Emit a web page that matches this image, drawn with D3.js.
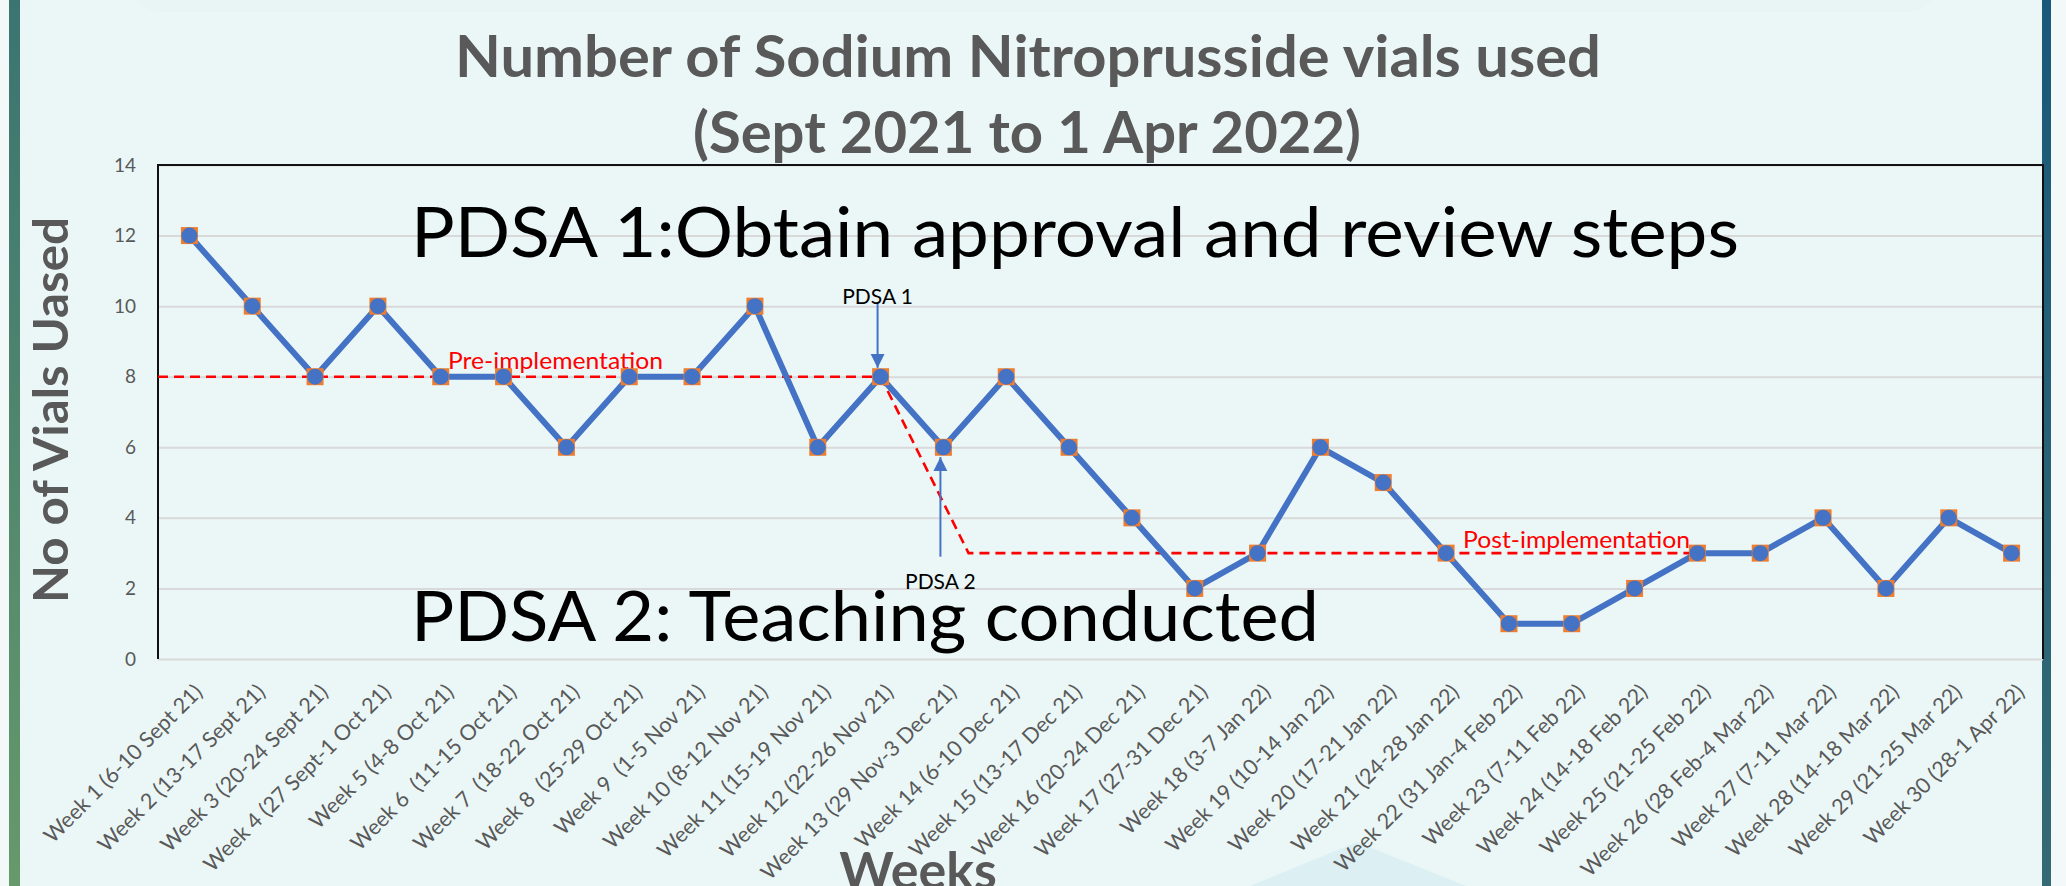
<!DOCTYPE html>
<html>
<head>
<meta charset="utf-8">
<title>Sodium Nitroprusside vials</title>
<script src="https://cdn.jsdelivr.net/npm/d3@7/dist/d3.min.js"></script>
<style>
  html, body { margin: 0; padding: 0; background: #f3f8f8; }
  svg { display: block; }
  text { font-family: Lato, "Open Sans", sans-serif; }
</style>
</head>
<body>
<svg id="chart" width="2066" height="886"></svg>
<script>
// weekly values
const weeks = [
  "Week 1 (6-10 Sept 21)", "Week 2 (13-17 Sept 21)", "Week 3 (20-24 Sept 21)",
  "Week 4 (27 Sept-1 Oct 21)", "Week 5 (4-8 Oct 21)", "Week 6  (11-15 Oct 21)",
  "Week 7  (18-22 Oct 21)", "Week 8  (25-29 Oct 21)", "Week 9  (1-5 Nov 21)",
  "Week 10 (8-12 Nov 21)", "Week 11 (15-19 Nov 21)", "Week 12 (22-26 Nov 21)",
  "Week 13 (29 Nov-3 Dec 21)", "Week 14 (6-10 Dec 21)", "Week 15 (13-17 Dec 21)",
  "Week 16 (20-24 Dec 21)", "Week 17 (27-31 Dec 21)", "Week 18 (3-7 Jan 22)",
  "Week 19 (10-14 Jan 22)", "Week 20 (17-21 Jan 22)", "Week 21 (24-28 Jan 22)",
  "Week 22 (31 Jan-4 Feb 22)", "Week 23 (7-11 Feb 22)", "Week 24 (14-18 Feb 22)",
  "Week 25 (21-25 Feb 22)", "Week 26 (28 Feb-4 Mar 22)", "Week 27 (7-11 Mar 22)",
  "Week 28 (14-18 Mar 22)", "Week 29 (21-25 Mar 22)", "Week 30 (28-1 Apr 22)"
];
const vials = [12, 10, 8, 10, 8, 8, 6, 8, 8, 10, 6, 8, 6, 8, 6, 4, 2, 3, 6, 5, 3, 1, 1, 2, 3, 3, 4, 2, 4, 3];
const yTicks = [0, 2, 4, 6, 8, 10, 12, 14];

// median lines (week number, value)
const preLine = [[0.5, 8], [12, 8]];
const postLine = [[12, 8], [13.4, 3], [25, 3]];

// PDSA arrows: week, arrow tail value, arrow tip value, label value
const pdsaArrows = [
  { label: "PDSA 1", week: 12, from: 10.1, to: 8.25, textAt: 10.05 },
  { label: "PDSA 2", week: 13, from: 2.9, to: 5.72, textAt: 1.98 }
];

const svg = d3.select("#chart");
const W = 2066, H = 886;
const m = { left: 158, right: 2043, top: 165, bottom: 659 };

// ---- background ----
const defs = svg.append("defs");
const gl = defs.append("linearGradient").attr("id", "lbar").attr("x1", 0).attr("y1", 0).attr("x2", 0).attr("y2", 1);
gl.append("stop").attr("offset", "0%").attr("stop-color", "#3b7471");
gl.append("stop").attr("offset", "100%").attr("stop-color", "#66996b");
const gr = defs.append("linearGradient").attr("id", "rbar").attr("x1", 0).attr("y1", 0).attr("x2", 0).attr("y2", 1);
gr.append("stop").attr("offset", "0%").attr("stop-color", "#19587a");
gr.append("stop").attr("offset", "100%").attr("stop-color", "#346a74");
defs.append("marker").attr("id", "arrow")
  .attr("viewBox", "0 0 10 10").attr("refX", 10).attr("refY", 5)
  .attr("markerUnits", "userSpaceOnUse").attr("markerWidth", 14).attr("markerHeight", 15)
  .attr("orient", "auto")
  .append("path").attr("d", "M0,0L10,5L0,10Z").attr("fill", "#4472c4");

svg.append("rect").attr("x", 0).attr("y", 0).attr("width", W).attr("height", H).attr("fill", "#f3f8f8");
svg.append("rect").attr("x", 9).attr("y", 0).attr("width", 2042).attr("height", H).attr("fill", "#ebf7f7");
svg.append("rect").attr("x", 132).attr("y", -40).attr("width", 1805).attr("height", 52)
  .attr("rx", 30).attr("fill", "#e8f2f2").attr("opacity", 0.6);
svg.append("path").attr("d", "M1250,886L1357,842L1466,886Z").attr("fill", "#dcf0f4");
svg.append("rect").attr("x", 9).attr("y", 0).attr("width", 11).attr("height", H).attr("fill", "url(#lbar)");
svg.append("rect").attr("x", 2042).attr("y", 0).attr("width", 9).attr("height", H).attr("fill", "url(#rbar)");

// ---- scales ----
const x = d3.scaleBand().domain(weeks).range([m.left, m.right]).padding(0);
const bw = x.bandwidth();
const y = d3.scaleLinear().domain([0, 14]).range([m.bottom, m.top]);
const wx = d3.scaleLinear().domain([1, 30])
  .range([x(weeks[0]) + bw / 2, x(weeks[29]) + bw / 2]);

// ---- grid + y axis ----
const yAxis = svg.append("g").attr("transform", `translate(${m.left},0)`)
  .call(d3.axisLeft(y).tickValues(yTicks).tickSize(-(m.right - m.left)).tickPadding(22));
yAxis.select(".domain").remove();
yAxis.selectAll("line").attr("stroke", "#d9d9d9").attr("stroke-width", 2);
yAxis.selectAll("text").attr("fill", "#595959").attr("font-size", 19)
  .style("font-family", "Lato, sans-serif");

// plot border (top, left, right)
svg.append("path")
  .attr("d", `M${m.left},${m.bottom}V${m.top}H${m.right}V${m.bottom}`)
  .attr("fill", "none").attr("stroke", "#111").attr("stroke-width", 2);

// ---- x axis labels ----
const xAxis = svg.append("g").attr("transform", `translate(0,${m.bottom})`)
  .call(d3.axisBottom(x).tickSize(0).tickSizeOuter(0));
xAxis.select(".domain").remove();
xAxis.selectAll("text")
  .attr("fill", "#595959").attr("font-size", 21.5)
  .style("font-family", "Lato, sans-serif")
  .style("white-space", "pre")
  .attr("text-anchor", "end")
  .attr("x", 0).attr("y", 0).attr("dy", "0.35em")
  .attr("transform", "translate(9,29) rotate(-45)");

// ---- red median lines ----
const medLine = d3.line().x(d => wx(d[0])).y(d => y(d[1]));
[preLine, postLine].forEach(pts => {
  svg.append("path").attr("d", medLine(pts))
    .attr("fill", "none").attr("stroke", "#ff0000")
    .attr("stroke-width", 2.6).attr("stroke-dasharray", "10,6");
});
svg.append("text").attr("x", 448).attr("y", y(8) - 8)
  .attr("fill", "#ff0000").attr("font-size", 23)
  .attr("textLength", 215).attr("lengthAdjust", "spacingAndGlyphs")
  .text("Pre-implementation");
svg.append("text").attr("x", 1463).attr("y", y(3) - 5)
  .attr("fill", "#ff0000").attr("font-size", 23)
  .attr("textLength", 227).attr("lengthAdjust", "spacingAndGlyphs")
  .text("Post-implementation");

// ---- data line ----
const line = d3.line().x((d, i) => x(weeks[i]) + bw / 2).y(d => y(d));
svg.append("path").datum(vials).attr("d", line)
  .attr("fill", "none").attr("stroke", "#4472c4").attr("stroke-width", 6)
  .attr("stroke-linejoin", "round");
svg.append("g").selectAll("rect").data(vials).join("rect")
  .attr("x", (d, i) => x(weeks[i]) + bw / 2 - 8.5)
  .attr("y", d => y(d) - 8.5)
  .attr("width", 17).attr("height", 17).attr("fill", "#ed7d31");
svg.append("g").selectAll("circle").data(vials).join("circle")
  .attr("cx", (d, i) => x(weeks[i]) + bw / 2)
  .attr("cy", d => y(d)).attr("r", 8).attr("fill", "#4472c4");

// ---- PDSA arrows ----
pdsaArrows.forEach(a => {
  svg.append("line")
    .attr("x1", wx(a.week) - 3).attr("x2", wx(a.week) - 3)
    .attr("y1", y(a.from)).attr("y2", y(a.to))
    .attr("stroke", "#4472c4").attr("stroke-width", 2)
    .attr("marker-end", "url(#arrow)");
  svg.append("text").attr("x", wx(a.week) - 3).attr("y", y(a.textAt))
    .attr("text-anchor", "middle").attr("font-size", 21).attr("fill", "#000")
    .text(a.label);
});

// ---- big annotation texts ----
svg.append("text").attr("x", 411).attr("y", 257)
  .attr("font-size", 70).attr("fill", "#000")
  .attr("textLength", 1328).attr("lengthAdjust", "spacingAndGlyphs")
  .text("PDSA 1:Obtain approval and review steps");
svg.append("text").attr("x", 411).attr("y", 641)
  .attr("font-size", 70).attr("fill", "#000")
  .attr("textLength", 908).attr("lengthAdjust", "spacingAndGlyphs")
  .text("PDSA 2: Teaching conducted");

// ---- titles ----
svg.append("text").attr("x", 1028).attr("y", 77)
  .attr("text-anchor", "middle").attr("font-weight", "bold")
  .attr("font-size", 57).attr("fill", "#595959")
  .attr("textLength", 1146).attr("lengthAdjust", "spacingAndGlyphs")
  .text("Number of Sodium Nitroprusside vials used");
svg.append("text").attr("x", 1027).attr("y", 153)
  .attr("text-anchor", "middle").attr("font-weight", "bold")
  .attr("font-size", 57).attr("fill", "#595959")
  .attr("textLength", 668).attr("lengthAdjust", "spacingAndGlyphs")
  .text("(Sept 2021 to 1 Apr 2022)");

svg.append("text").attr("transform", "translate(68,410) rotate(-90)")
  .attr("text-anchor", "middle").attr("font-weight", "bold")
  .attr("font-size", 48).attr("fill", "#595959")
  .attr("textLength", 386).attr("lengthAdjust", "spacingAndGlyphs")
  .text("No of Vials Uased");

svg.append("text").attr("x", 918).attr("y", 889)
  .attr("text-anchor", "middle").attr("font-weight", "bold")
  .attr("font-size", 52).attr("fill", "#595959")
  .text("Weeks");
</script>
</body>
</html>
